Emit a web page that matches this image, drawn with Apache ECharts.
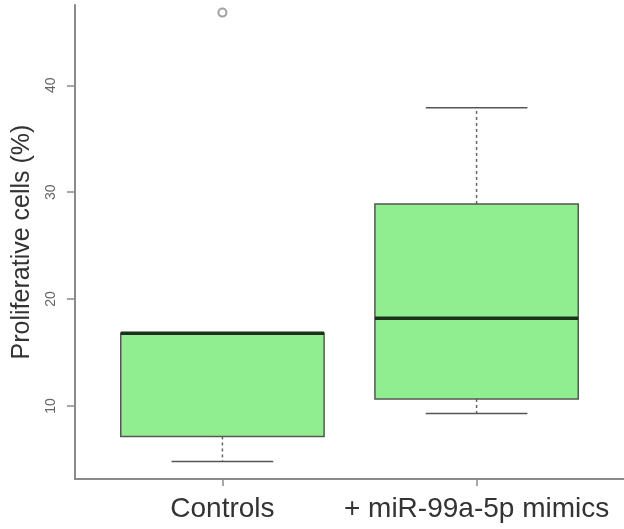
<!DOCTYPE html>
<html>
<head>
<meta charset="utf-8">
<script src="https://cdn.jsdelivr.net/npm/echarts@6/dist/echarts.min.js"></script>
<style>
html,body{margin:0;padding:0;background:#fff;}
#chart{width:624px;height:529px;}
</style>
</head>
<body>
<div id="chart"></div>
<script>
const categories = ['Controls', '+ miR-99a-5p mimics'];
const lowerWhisker = [4.8, 9.3];
const q1 = [7.15, 10.65];
const median = [16.8, 18.2];
const q3 = [16.8, 28.9];
const upperWhisker = [16.8, 37.9];
const outlierGroup = [1];
const outlierValue = [46.8];
const yTicks = [10, 20, 30, 40];
const yTitle = 'Proliferative cells (%)';

const FONT = '"Liberation Sans", Arial, sans-serif';

const boxData = categories.map((c, i) => [i + 1, lowerWhisker[i], q1[i], median[i], q3[i], upperWhisker[i]]);
const outData = outlierGroup.map((g, i) => [g, outlierValue[i]]);

const chart = echarts.init(document.getElementById('chart'), null, {renderer: 'canvas'});

function renderBox(params, api) {
  const x = api.value(0);
  const pMin = api.coord([x, api.value(1)]);
  const pQ1 = api.coord([x, api.value(2)]);
  const pMed = api.coord([x, api.value(3)]);
  const pQ3 = api.coord([x, api.value(4)]);
  const pMax = api.coord([x, api.value(5)]);
  const boxW = api.size([0.8, 0])[0];
  const capW = api.size([0.4, 0])[0];
  const cx = pMed[0];
  const whiskStyle = {stroke: '#666', lineWidth: 1.5, lineDash: [3, 3]};
  const capStyle = {stroke: '#555', lineWidth: 1.5};
  return {
    type: 'group',
    children: [
      {type: 'line', shape: {x1: cx, y1: pQ1[1], x2: cx, y2: pMin[1]}, style: whiskStyle},
      {type: 'line', shape: {x1: cx, y1: pQ3[1], x2: cx, y2: pMax[1]}, style: whiskStyle},
      {type: 'rect', shape: {x: cx - boxW / 2, y: pQ3[1], width: boxW, height: pQ1[1] - pQ3[1]},
        style: {fill: '#90EE90', stroke: '#555', lineWidth: 1.5}},
      {type: 'line', shape: {x1: cx - capW / 2, y1: pMin[1], x2: cx + capW / 2, y2: pMin[1]}, style: capStyle},
      {type: 'line', shape: {x1: cx - capW / 2, y1: pMax[1], x2: cx + capW / 2, y2: pMax[1]}, style: capStyle},
      {type: 'line', shape: {x1: cx - boxW / 2, y1: pMed[1], x2: cx + boxW / 2, y2: pMed[1]},
        style: {stroke: '#1c321c', lineWidth: 3.5}}
    ]
  };
}

const option = {
  animation: false,
  backgroundColor: '#fff',
  grid: {left: 75, top: 5, width: 555, height: 474, containLabel: false},
  xAxis: {
    type: 'value', min: 0.42, max: 2.58,
    splitLine: {show: false},
    axisLine: {show: true, lineStyle: {color: '#8a8a8a', width: 2}},
    axisTick: {show: true, customValues: [1, 2], length: 7, lineStyle: {color: '#8a8a8a', width: 1.5}},
    axisLabel: {
      customValues: [1, 2],
      formatter: v => categories[Math.round(v) - 1] || '',
      fontSize: 28, color: '#333', fontFamily: FONT, margin: 16
    }
  },
  yAxis: {
    type: 'value', min: 3.17, max: 47.51,
    splitLine: {show: false},
    axisLine: {show: true, lineStyle: {color: '#8a8a8a', width: 2}},
    axisTick: {show: true, customValues: yTicks, length: 8, lineStyle: {color: '#8a8a8a', width: 1.5}},
    axisLabel: {
      customValues: yTicks, rotate: 90, fontSize: 14, color: '#666', fontFamily: FONT, margin: 17
    },
    name: yTitle, nameLocation: 'middle', nameGap: 40,
    nameTextStyle: {fontSize: 25, color: '#333', fontFamily: FONT}
  },
  series: [
    {type: 'custom', renderItem: renderBox, data: boxData, encode: {x: 0, y: [1, 2, 3, 4, 5]}, clip: false},
    {type: 'scatter', data: outData, symbol: 'emptyCircle', symbolSize: 8, z: 5,
      itemStyle: {color: '#888', borderColor: '#888', borderWidth: 1.5}}
  ]
};
chart.setOption(option);
</script>
</body>
</html>
